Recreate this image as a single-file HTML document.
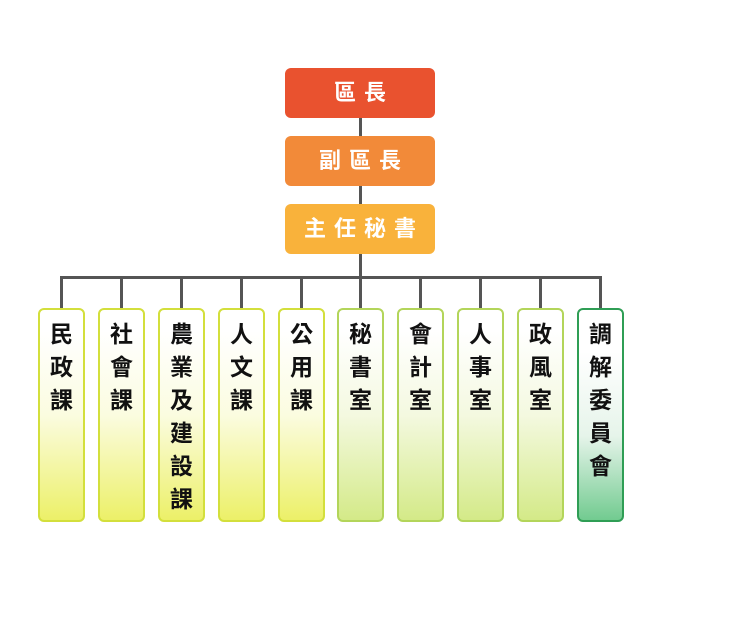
<!DOCTYPE html>
<html><head><meta charset="utf-8"><style>
body{margin:0;width:732px;height:625px;background:#fff;position:relative;font-family:"Liberation Sans","Noto Sans CJK TC",sans-serif;overflow:hidden}
.t{position:absolute;left:285px;width:150px;height:50px;border-radius:6px;color:#fff;font-weight:bold;font-size:22px;line-height:50px;text-align:center;letter-spacing:8px;text-indent:8px}
.l{position:absolute;background:#555}
.c{position:absolute;top:308px;border:2px solid #d3df3c;border-radius:6px;background:linear-gradient(#fff 10%,#fbfce0 50%,#ecf068);font-weight:bold;font-size:23px;line-height:33px;text-align:center;padding-top:8px;box-sizing:border-box;height:214px;width:47px;color:#111}
.g{border-color:#b3d55a;background:linear-gradient(#fff 10%,#f4f9e0 50%,#d4ea88)}
.d{border-color:#2f9e55;background:linear-gradient(#fff 20%,#e6f4ea 60%,#72cb90)}
</style></head><body>
<div class="l" style="left:359px;top:118px;width:3px;height:160px"></div>
<div class="t" style="top:68px;background:#e9522f">區長</div>
<div class="t" style="top:136px;background:#f28a39">副區長</div>
<div class="t" style="top:204px;background:#f9b23b">主任秘書</div>
<div class="l" style="left:60px;top:276px;width:542px;height:3px"></div>
<div class="l" style="left:60px;top:276px;width:3px;height:33px"></div>
<div class="l" style="left:120px;top:276px;width:3px;height:33px"></div>
<div class="l" style="left:180px;top:276px;width:3px;height:33px"></div>
<div class="l" style="left:240px;top:276px;width:3px;height:33px"></div>
<div class="l" style="left:300px;top:276px;width:3px;height:33px"></div>
<div class="l" style="left:359px;top:276px;width:3px;height:33px"></div>
<div class="l" style="left:419px;top:276px;width:3px;height:33px"></div>
<div class="l" style="left:479px;top:276px;width:3px;height:33px"></div>
<div class="l" style="left:539px;top:276px;width:3px;height:33px"></div>
<div class="l" style="left:599px;top:276px;width:3px;height:33px"></div>
<div class="c" style="left:38px">民<br>政<br>課</div>
<div class="c" style="left:98px">社<br>會<br>課</div>
<div class="c" style="left:158px">農<br>業<br>及<br>建<br>設<br>課</div>
<div class="c" style="left:218px">人<br>文<br>課</div>
<div class="c" style="left:278px">公<br>用<br>課</div>
<div class="c g" style="left:337px">秘<br>書<br>室</div>
<div class="c g" style="left:397px">會<br>計<br>室</div>
<div class="c g" style="left:457px">人<br>事<br>室</div>
<div class="c g" style="left:517px">政<br>風<br>室</div>
<div class="c d" style="left:577px">調<br>解<br>委<br>員<br>會</div>
</body></html>
